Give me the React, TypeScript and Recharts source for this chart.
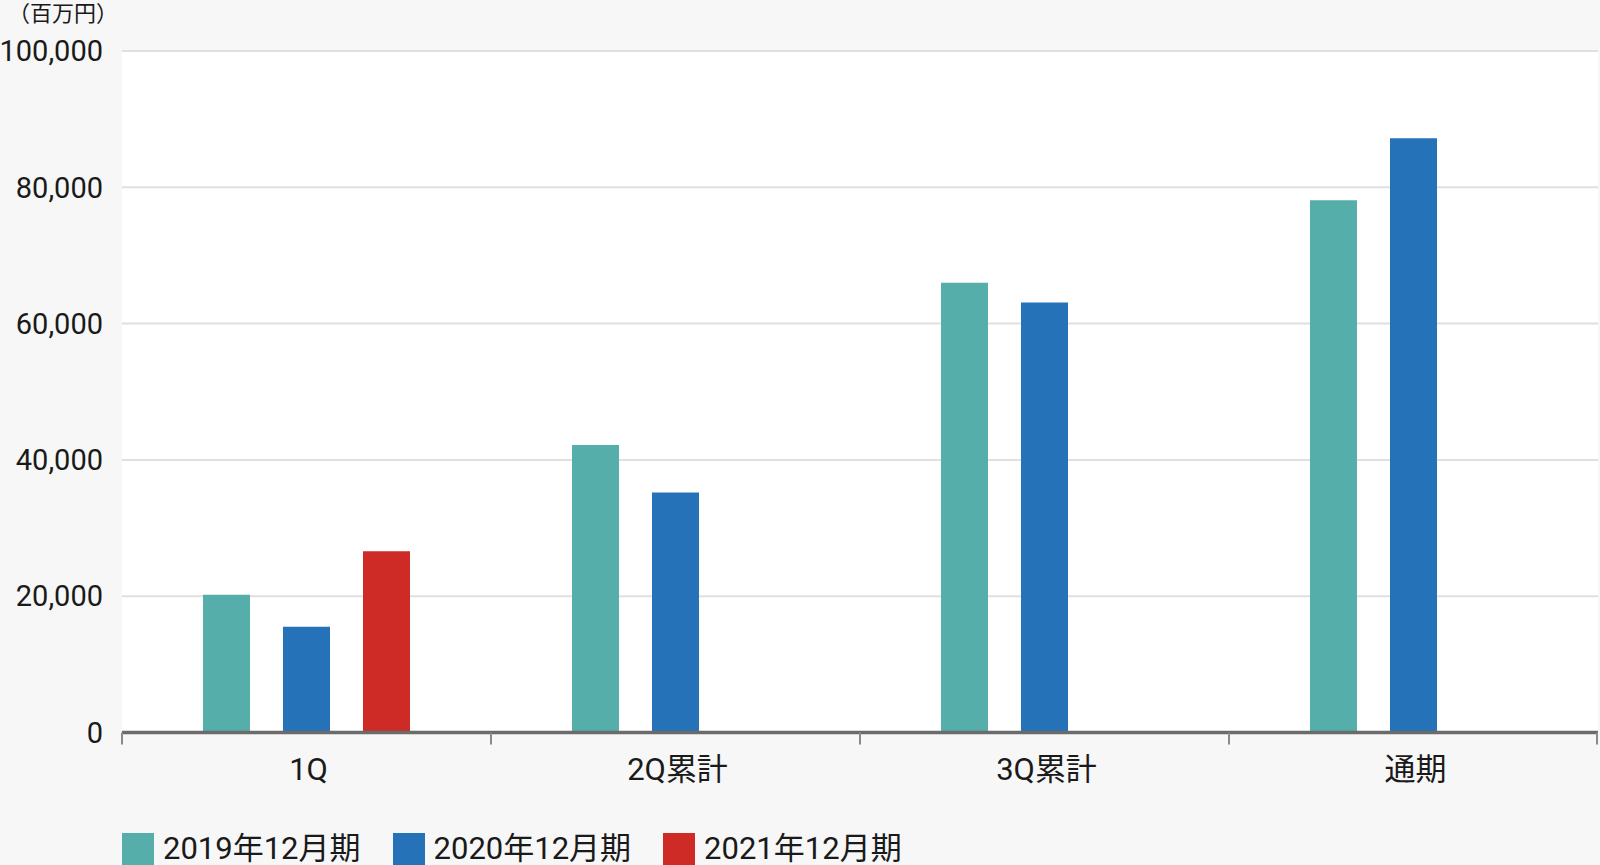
import React from "react";
import { BarChart, Bar, XAxis, YAxis, CartesianGrid, Legend } from "recharts";

const categories = ["1Q", "2Q累計", "3Q累計", "通期"];
const fy2019 = [20200, 42200, 66000, 78100];
const fy2020 = [15500, 35200, 63100, 87200];
const fy2021 = [26600, null, null, null];
const seriesNames = ["2019年12月期", "2020年12月期", "2021年12月期"];
const seriesColors = ["#56AEAA", "#2672B9", "#CE2A26"];
const yTicks = [0, 20000, 40000, 60000, 80000, 100000];
const unitLabel = "（百万円）";

const data = categories.map((c, i) => ({
  name: c,
  s2019: fy2019[i],
  s2020: fy2020[i],
  s2021: fy2021[i],
}));
const seriesKeys = ["s2019", "s2020", "s2021"];

const FONT = "Roboto, 'Noto Sans CJK JP', sans-serif";
const CHART_W = 1600;
const CHART_H = 865;
const MARGIN = { top: 51, right: 2, left: 0, bottom: 72.5 };
const Y_W = 122;

const CategoryTick = (props: any) => {
  const { x, y, payload, index, visibleTicksCount } = props;
  const plotW = props.width ?? CHART_W - MARGIN.left - MARGIN.right - Y_W;
  const count = visibleTicksCount ?? categories.length;
  const band = plotW / count;
  const left = x - band / 2;
  const right = x + band / 2;
  return (
    <g>
      <line x1={left} x2={left} y1={y} y2={y + 12} stroke="#8a8a8a" strokeWidth={2} />
      {index === count - 1 && (
        <line x1={right - 1} x2={right - 1} y1={y} y2={y + 12} stroke="#8a8a8a" strokeWidth={2} />
      )}
      <text
        x={x + 2}
        y={y + 47.5}
        textAnchor="middle"
        fill="#1a1a1a"
        fontSize={31}
        fontFamily={FONT}
      >
        {payload.value}
      </text>
    </g>
  );
};

const LegendContent = () => (
  <div style={{ display: "flex", fontFamily: FONT }}>
    {seriesNames.map((n, i) => (
      <div key={n} style={{ display: "flex", alignItems: "flex-start", marginRight: 32 }}>
        <div style={{ width: 32, height: 32, background: seriesColors[i], marginRight: 9 }} />
        <span style={{ fontSize: 31, lineHeight: "32px", color: "#1a1a1a", whiteSpace: "nowrap" }}>{n}</span>
      </div>
    ))}
  </div>
);

export default function App() {
  return (
    <div
      style={{
        position: "absolute",
        left: 0,
        top: 0,
        width: CHART_W,
        height: CHART_H,
        background: "#f7f7f7",
        overflow: "hidden",
      }}
    >
      <div
        style={{
          position: "absolute",
          left: 8,
          top: 2,
          fontSize: 22,
          lineHeight: "24px",
          fontFamily: FONT,
          color: "#1a1a1a",
        }}
      >
        {unitLabel}
      </div>
      <BarChart
        width={CHART_W}
        height={CHART_H}
        data={data}
        margin={MARGIN}
        barGap={33}
        barSize={47}
      >
        <CartesianGrid vertical={false} fill="#ffffff" stroke="#e0e0e0" strokeWidth={2} />
        <XAxis
          dataKey="name"
          height={60}
          axisLine={{ stroke: "#6b6b6b", strokeWidth: 3.5 }}
          tickLine={false}
          tickSize={0}
          tickMargin={0}
          interval={0}
          tick={<CategoryTick />}
        />
        <YAxis
          width={Y_W}
          domain={[0, 100000]}
          ticks={yTicks}
          axisLine={false}
          tickLine={false}
          tickSize={0}
          tickMargin={19}
          interval={0}
          tickFormatter={(v: number) => v.toLocaleString("en-US")}
          tick={{ fill: "#1a1a1a", fontSize: 29, fontFamily: FONT }}
        />
        <Legend
          verticalAlign="middle"
          content={<LegendContent />}
          wrapperStyle={{ left: 122, top: 833, width: 900 }}
        />
        {seriesKeys.map((k, i) => (
          <Bar key={k} dataKey={k} name={seriesNames[i]} fill={seriesColors[i]} isAnimationActive={false} />
        ))}
      </BarChart>
    </div>
  );
}
